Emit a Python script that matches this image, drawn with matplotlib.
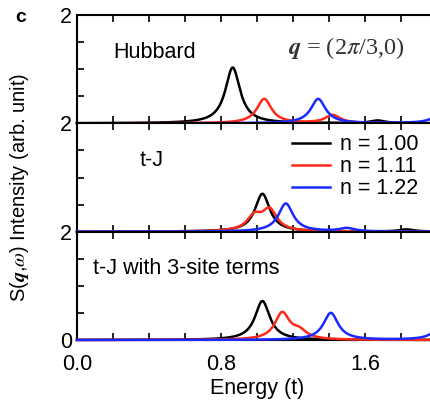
import numpy as np
import matplotlib.pyplot as plt
from matplotlib.ticker import MultipleLocator, FuncFormatter

plt.rcParams['font.family'] = ['Liberation Sans', 'DejaVu Sans']
plt.rcParams['mathtext.fontset'] = 'stix'

# peak positions (t) and heights, per panel and filling
panel_names = ["Hubbard", "t-J", "t-J with 3-site terms"]
fillings = ["n = 1.00", "n = 1.11", "n = 1.22"]
colors = ["black", "#ff2a1a", "#1a2aff"]

hub_pos = [[0.865, 1.67], [1.04, 1.42], [1.34, 2.03]]
hub_amp = [[1.03, 0.05], [0.45, 0.15], [0.45, 0.22]]

tj_pos = [[1.03, 1.83], [0.985, 1.07], [1.16, 1.50]]
tj_amp = [[0.70, 0.04], [0.26, 0.38], [0.52, 0.06]]

tj3_pos = [[1.03], [1.14, 1.235], [1.41, 2.03]]
tj3_amp = [[0.72], [0.49, 0.14], [0.50, 0.30]]

panel_pos = [hub_pos, tj_pos, tj3_pos]
panel_amp = [hub_amp, tj_amp, tj3_amp]
gamma = 0.05  # lorentzian broadening


def spectrum(w, pos, amp):
    s = np.zeros_like(w)
    for p, a in zip(pos, amp):
        s += a * gamma**2 / ((w - p)**2 + gamma**2)
    return s


w = np.linspace(0, 2.0, 1200)

fig = plt.figure(figsize=(4.3, 4.01), dpi=100)
left, right = 77 / 430, 437 / 430
top, bottom = 1 - 15 / 401, 1 - 340 / 401
h = (top - bottom) / 3

axes = []
for i in range(3):
    ax = fig.add_axes([left, top - (i + 1) * h, right - left, h])
    for j in range(3):
        ax.plot(w, spectrum(w, panel_pos[i][j], panel_amp[i][j]),
                color=colors[j], lw=1.8, label=fillings[j], clip_on=False,
                zorder=3)
    ax.set_xlim(0, 2.0)
    ax.set_ylim(0, 2)
    ax.xaxis.set_major_locator(MultipleLocator(0.2))
    ax.yaxis.set_major_locator(MultipleLocator(0.5))
    ax.tick_params(direction='in', top=True, right=True, length=5,
                   width=1.2, labelsize=15.5)
    ax.tick_params(axis='x', pad=10)
    for sp in ax.spines.values():
        sp.set_linewidth(1.5)
    last = (i == 2)
    ax.yaxis.set_major_formatter(FuncFormatter(
        lambda v, p, last=last: "2" if abs(v - 2) < 1e-6 else
        ("0" if (last and abs(v) < 1e-6) else "")))
    if last:
        ax.xaxis.set_major_formatter(FuncFormatter(
            lambda v, p: "%.1f" % v if abs(v / 0.8 - round(v / 0.8)) < 1e-6 else ""))
    else:
        ax.tick_params(labelbottom=False)
    axes.append(ax)

axes[0].text(0.20, 1.30, panel_names[0], fontsize=15.5, va='center')
axes[0].text(1.17, 1.39, r"$\mathbfit{q}$ = (2$\pi$/3,0)", fontsize=17.5,
             family='Liberation Serif', color='#333333', va='center')
axes[1].text(0.35, 1.32, panel_names[1], fontsize=15.5, va='center')
axes[2].text(0.09, 1.32, panel_names[2], fontsize=15.5, va='center')

axes[1].legend(loc='upper left', bbox_to_anchor=(0.597, 0.90), frameon=False,
               fontsize=15.5, handlelength=1.75, handletextpad=0.47,
               labelspacing=0.05, borderaxespad=0, borderpad=0)

axes[2].set_xlabel("Energy (t)", fontsize=15.5, labelpad=2)
fig.text(0.045, 1 - 187 / 401,
         r"S($\mathbfit{q}$,$\omega$) Intensity (arb. unit)",
         rotation=90, ha='center', va='center', fontsize=14.5)
fig.text(0.035, 1 - 18 / 401, "c", fontsize=14, fontweight='bold',
         ha='left', va='center')

fig.savefig("out.png", dpi=100)
